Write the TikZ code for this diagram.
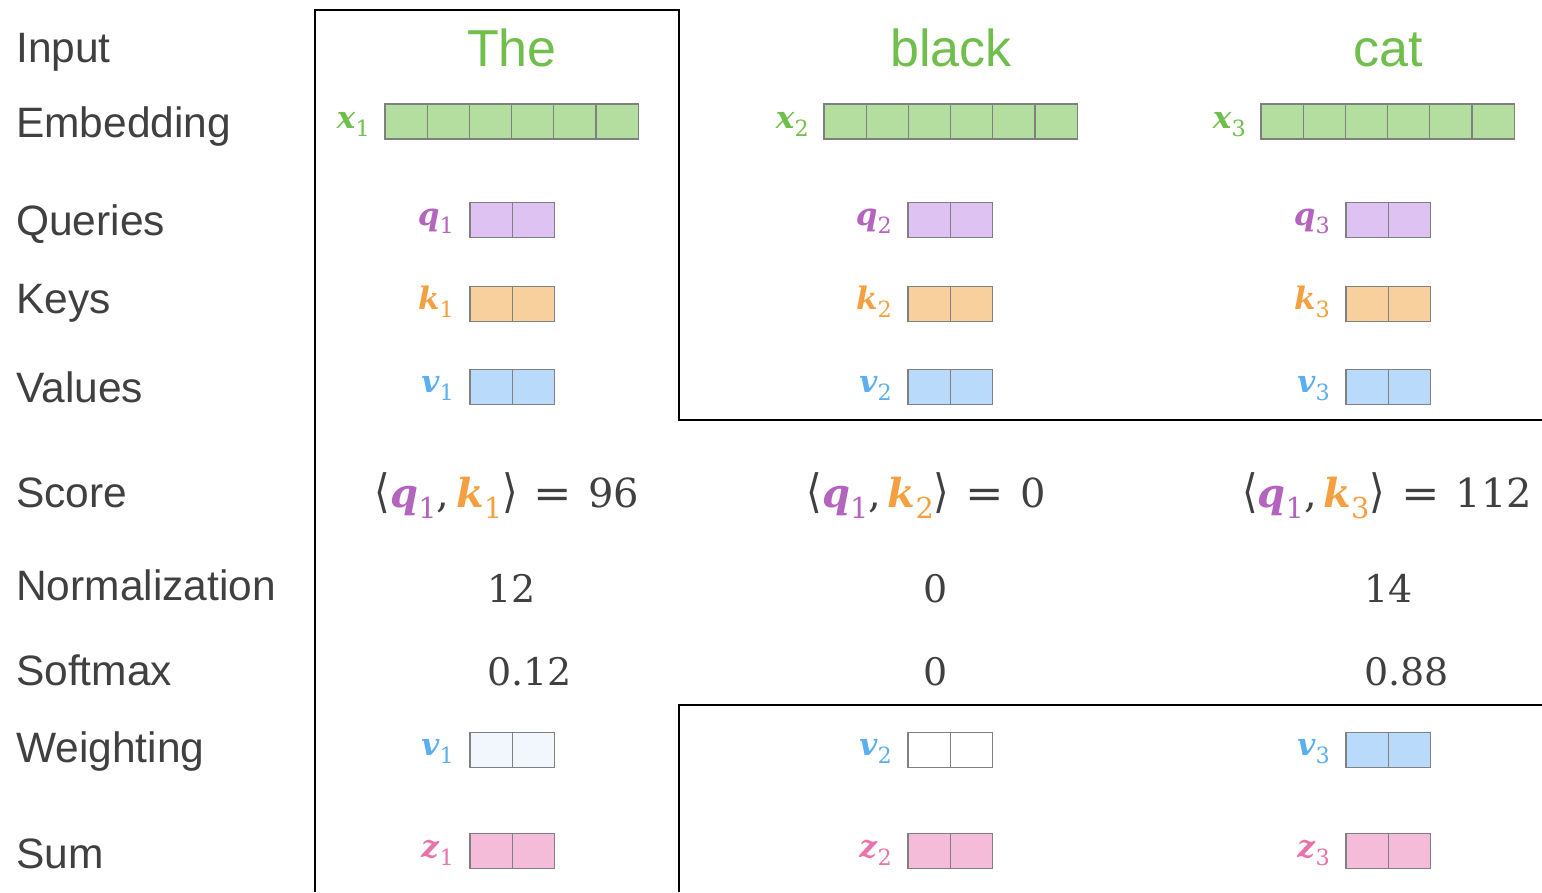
\documentclass[tikz,border=0pt]{standalone}
\usepackage{fontspec}
\setmainfont{DejaVu Serif}
\newfontfamily\labfont{Liberation Sans}
\newfontfamily\symf{DejaVu Sans}
\definecolor{txtgray}{RGB}{64,64,64}
\definecolor{wgreen}{RGB}{112,190,75}
\definecolor{cellgray}{RGB}{128,128,128}
\definecolor{fgreen}{RGB}{179,222,160}
\definecolor{fpurple}{RGB}{222,194,242}
\definecolor{forange}{RGB}{248,208,158}
\definecolor{fblue}{RGB}{185,218,250}
\definecolor{fpale}{RGB}{242,247,253}
\definecolor{fpink}{RGB}{245,188,218}
\definecolor{cq}{RGB}{180,100,190}
\definecolor{ck}{RGB}{245,160,64}
\definecolor{cv}{RGB}{91,174,240}
\definecolor{cz}{RGB}{232,115,168}
\newcommand\vecl[3]{{\color{#1}\textbf{\textit{#2}}\raisebox{-0.28em}{\scalebox{0.72}{#3}}}}
\newcommand\lang{{\symf\scalebox{1}[1.15]{⟨}}}
\newcommand\rang{{\symf\scalebox{1}[1.15]{⟩}}}
\newcommand\eqs{\hspace{0.4em}{\symf\scalebox{1.15}[1]{=}}\hspace{0.4em}}
\tikzset{
  rowlab/.style={anchor=base west, inner sep=0pt, font=\labfont\fontsize{42.5}{50}\selectfont, text=txtgray},
  word/.style={anchor=base, inner sep=0pt, font=\labfont\fontsize{52}{60}\selectfont, text=wgreen},
  cell/.style={draw=cellgray, line width=1.3pt, minimum width=42.2pt, minimum height=35pt, inner sep=0pt, outer sep=0pt, anchor=west},
  vlab/.style={anchor=base east, inner sep=0pt, font=\fontsize{31}{36}\selectfont},
  num/.style={inner sep=0pt, font=\fontsize{38}{44}\selectfont, text=txtgray},
  score/.style={num, anchor=base, font=\fontsize{40}{46}\selectfont},
  frame/.style={line width=2.5pt, black}
}
\begin{document}
\begin{tikzpicture}[x=1pt,y=-1pt]
\useasboundingbox (0,0) rectangle (1542,892);
% row labels
\node[rowlab] (lInput) at (16,62) {Input};
\node[rowlab] (lEmb) at (16,137) {Embedding};
\node[rowlab] (lQ) at (16,235) {Queries};
\node[rowlab] (lK) at (16,313) {Keys};
\node[rowlab] (lV) at (16,402) {Values};
\node[rowlab] (lScore) at (16,507) {Score};
\node[rowlab] (lNorm) at (16,600) {Normalization};
\node[rowlab] (lSoft) at (16,685) {Softmax};
\node[rowlab] (lW) at (16,762) {Weighting};
\node[rowlab] (lSum) at (16,868) {Sum};
% words
\node[word] (w1) at (512,66) {The};
\node[word] (w2) at (951,66) {black};
\node[word] (w3) at (1388,66) {cat};
% embeddings
\foreach \c/\xo in {1/385,2/824,3/1261}{
  \foreach \i in {0,...,5}{
    \node[cell, fill=fgreen] (e\c-\i) at ({\xo+\i*42.2},121.5) {};
  }
  \node[vlab] (xl\c) at ({\xo-15},128) {\vecl{wgreen}{x}{\c}};
}
% small vectors
\foreach \c/\xo/\wf in {1/470/fpale,2/908/white,3/1346/fblue}{
  \foreach \i in {0,1}{
    \node[cell, fill=fpurple] (q\c-\i) at ({\xo+\i*42.2},220) {};
    \node[cell, fill=forange] (k\c-\i) at ({\xo+\i*42.2},304) {};
    \node[cell, fill=fblue] (v\c-\i) at ({\xo+\i*42.2},387) {};
    \node[cell, fill=\wf] (wv\c-\i) at ({\xo+\i*42.2},750) {};
    \node[cell, fill=fpink] (z\c-\i) at ({\xo+\i*42.2},851) {};
  }
  \node[vlab] (ql\c) at ({\xo-16},225) {\vecl{cq}{q}{\c}};
  \node[vlab] (kl\c) at ({\xo-16},309) {\vecl{ck}{k}{\c}};
  \node[vlab] (vl\c) at ({\xo-16},392) {\vecl{cv}{v}{\c}};
  \node[vlab] (wl\c) at ({\xo-16},755) {\vecl{cv}{v}{\c}};
  \node[vlab] (zl\c) at ({\xo-16},857) {\vecl{cz}{z}{\c}};
}
% scores
\node[score] (s1) at (507,507) {\lang\vecl{cq}{q}{1},\,\vecl{ck}{k}{1}\rang\eqs 96};
\node[score] (s2) at (926,507) {\lang\vecl{cq}{q}{1},\,\vecl{ck}{k}{2}\rang\eqs 0};
\node[score] (s3) at (1387,507) {\lang\vecl{cq}{q}{1},\,\vecl{ck}{k}{3}\rang\eqs 112};
% normalization
\node[num, anchor=base west] (n1) at (487,602) {12};
\node[num, anchor=base] (n2) at (936,602) {0};
\node[num, anchor=base west] (n3) at (1364,602) {14};
% softmax
\node[num, anchor=base west] (m1) at (487,685) {0.12};
\node[num, anchor=base] (m2) at (936,685) {0};
\node[num, anchor=base west] (m3) at (1364,685) {0.88};
% frames
\coordinate (f1) at (315,892);
\coordinate (f2) at (315,10);
\coordinate (f3) at (679,10);
\coordinate (f4) at (679,420);
\coordinate (f5) at (1542,420);
\coordinate (g1) at (1542,705);
\coordinate (g2) at (679,705);
\coordinate (g3) at (679,892);
\draw[frame] (f1) -- (f2) -- (f3) -- (f4) -- (f5);
\draw[frame] (g1) -- (g2) -- (g3);
\end{tikzpicture}
\end{document}
